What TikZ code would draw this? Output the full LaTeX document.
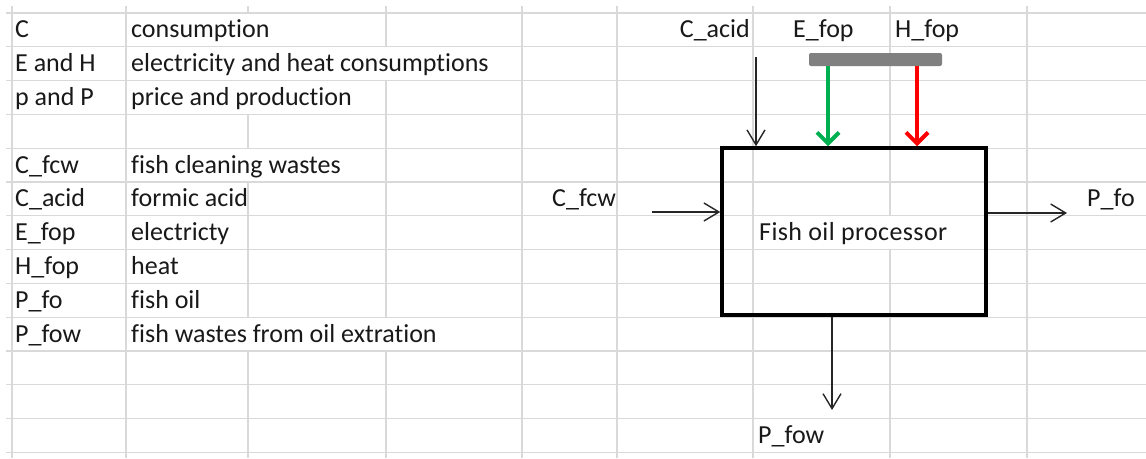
\documentclass[tikz,border=0pt]{standalone}
\usepackage{fontspec}
\setmainfont{Carlito}[Ligatures=NoCommon]
\usetikzlibrary{arrows.meta}
\definecolor{gridc}{HTML}{D9D9D9}
\definecolor{xlgreen}{HTML}{00B050}
\definecolor{xlred}{HTML}{FF0000}
\definecolor{barc}{HTML}{808080}
\begin{document}
\begin{tikzpicture}[x=1pt,y=-1pt,
  gridline/.style={draw=gridc,line width=1.2pt},
  cell/.style={anchor=base west,inner sep=0pt,text=black!90,font=\fontsize{26}{30}\selectfont},
  flow/.style={draw=black!85,line width=1.4pt,-{Straight Barb[length=15pt,width=18pt]}},
  power/.style={line width=4pt,-{Straight Barb[length=11pt,width=22pt]}},
]
\useasboundingbox[fill=white] (0,0) rectangle (1146,458);
% spreadsheet grid
\foreach \k in {0,...,13} \draw[gridline] (6,{13+33.8*\k}) -- (1146,{13+33.8*\k});
\foreach \x in {12,126,522,617,753,1027} \draw[gridline] (\x,6) -- (\x,458);
\draw[gridline] (248,6) -- (248,13) (248,114.4) -- (248,148.2) (248,182) -- (248,317.2) (248,351) -- (248,458);
\draw[gridline] (386,6) -- (386,46.8) (386,80.6) -- (386,317.2) (386,351) -- (386,458);
\draw[gridline] (890,6) -- (890,215.8) (890,249.6) -- (890,458);
% legend table
\node[cell] (k1) at (15,37.8) {C};
\node[cell] (v1) at (131,37.8) {consumption};
\node[cell] (k2) at (15,71.6) {E and H};
\node[cell] (v2) at (131,71.6) {electricity and heat consumptions};
\node[cell] (k3) at (15,105.4) {p and P};
\node[cell] (v3) at (131,105.4) {price and production};
\node[cell] (k5) at (15,173) {C\_fcw};
\node[cell] (v5) at (131,173) {fish cleaning wastes};
\node[cell] (k6) at (15,206.8) {C\_acid};
\node[cell] (v6) at (131,206.8) {formic acid};
\node[cell] (k7) at (15,240.6) {E\_fop};
\node[cell] (v7) at (131,240.6) {electricty};
\node[cell] (k8) at (15,274.4) {H\_fop};
\node[cell] (v8) at (131,274.4) {heat};
\node[cell] (k9) at (15,308.2) {P\_fo};
\node[cell] (v9) at (131,308.2) {fish oil};
\node[cell] (k10) at (15,342) {P\_fow};
\node[cell] (v10) at (131,342) {fish wastes from oil extration};
% process diagram
\node[cell,anchor=base east] (lacid) at (750,37.8) {C\_acid};
\node[cell] (lefop) at (793,37.8) {E\_fop};
\node[cell] (lhfop) at (895,37.8) {H\_fop};
\node[cell] (lfcw) at (552,206.8) {C\_fcw};
\node[cell] (lfo) at (1087,206.8) {P\_fo};
\node[cell] (lfow) at (758,443.4) {P\_fow};
\node[draw=black,line width=3.5pt,minimum width=264pt,minimum height=167pt,inner sep=0pt] (box) at (854,231.5) {};
\node[cell] (ltitle) at (759,240.6) {\addfontfeature{LetterSpace=1.5}Fish oil processor};
\node[fill=barc,rounded corners=2pt,minimum width=133pt,minimum height=13pt,inner sep=0pt] (bar) at (875.5,59.5) {};
\coordinate (acidS) at (756,57);
\coordinate (gx) at (828,0);
\coordinate (rx) at (917,0);
\coordinate (fcwS) at (652,212);
\coordinate (foE) at (1067,213);
\coordinate (fowE) at (832,410);
\draw[flow] (acidS) -- (acidS |- box.north);
\draw[power,draw=xlgreen] (bar.south -| gx) -- (box.north -| gx);
\draw[power,draw=xlred] (bar.south -| rx) -- (box.north -| rx);
\draw[flow] (fcwS) -- (fcwS -| box.west);
\draw[flow] (box.east |- foE) -- (foE);
\draw[flow] (box.south -| fowE) -- (fowE);
\end{tikzpicture}
\end{document}
